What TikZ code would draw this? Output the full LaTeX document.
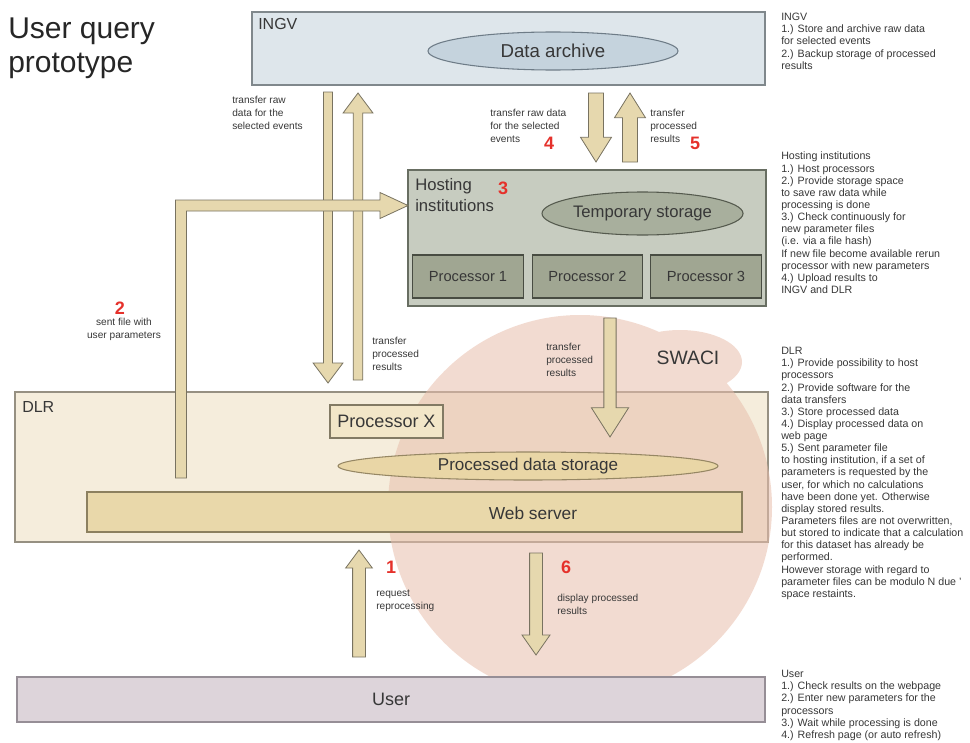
\documentclass[tikz,border=0pt]{standalone}
\usepackage{fontspec}
\setmainfont{Liberation Sans}
\usetikzlibrary{calc,shapes.geometric}

\definecolor{ingvfill}{RGB}{222,230,235}
\definecolor{ingvedge}{RGB}{128,136,140}
\definecolor{archivefill}{RGB}{197,211,221}
\definecolor{archiveedge}{RGB}{110,124,135}
\definecolor{hostfill}{RGB}{199,204,192}
\definecolor{hostedge}{RGB}{104,110,98}
\definecolor{tempfill}{RGB}{168,175,157}
\definecolor{tempedge}{RGB}{85,90,78}
\definecolor{procfill}{RGB}{160,166,146}
\definecolor{procedge}{RGB}{72,76,66}
\definecolor{dlrfill}{RGB}{245,237,220}
\definecolor{dlredge}{RGB}{150,144,130}
\definecolor{procxfill}{RGB}{242,230,200}
\definecolor{procxedge}{RGB}{130,122,100}
\definecolor{storefill}{RGB}{233,214,166}
\definecolor{storeedge}{RGB}{150,135,100}
\definecolor{webfill}{RGB}{233,216,170}
\definecolor{webedge}{RGB}{140,128,95}
\definecolor{userfill}{RGB}{221,212,218}
\definecolor{useredge}{RGB}{150,142,150}
\definecolor{swacipink}{RGB}{232,190,172}
\definecolor{arrowfill}{RGB}{230,216,174}
\definecolor{arrowedge}{RGB}{120,114,96}
\definecolor{numred}{RGB}{229,49,43}
\definecolor{inkgray}{RGB}{55,55,55}

% block arrow: from, to, shaft half width, head half width, head length
\newcommand{\blockarr}[5]{%
  \coordinate (ba) at ($(#2)!#5!(#1)$);
  \filldraw[arrowbody] ($(#1)!#3!90:(#2)$) -- ($(ba)!#3!-90:(#1)$) -- ($(ba)!#4!-90:(#1)$) -- (#2)
    -- ($(ba)!#4!90:(#1)$) -- ($(ba)!#3!90:(#1)$) -- ($(#1)!#3!-90:(#2)$) -- cycle;}

\begin{document}
\begin{tikzpicture}[x=0.75pt,y=0.75pt,yscale=-1,xscale=1,
  panel/.style={rectangle, line width=0.8pt, inner sep=0pt, text=inkgray},
  blob/.style={ellipse, line width=0.8pt, inner sep=0pt, text=inkgray},
  arrowbody/.style={fill=arrowfill, draw=arrowedge, line width=0.6pt, line join=miter},
  note/.style={anchor=north west, inner sep=0pt, align=left, text=inkgray, font=\fontsize{8}{9.1}\selectfont},
  tag/.style={anchor=north west, inner sep=0pt, align=left, text=inkgray, font=\fontsize{7.6}{9.6}\selectfont},
  num/.style={inner sep=0pt, text=numred, font=\fontsize{13.5}{14}\selectfont\bfseries}]
\useasboundingbox (0,0) rectangle (970,742);

% Text Node
\node (title) [anchor=north west, inner sep=0pt, align=left, text=black!85, font=\fontsize{22.5}{25.5}\selectfont] at (8,18) {User query\\prototype};

%Shape: Rectangle
\node (ingv) [panel, fill=ingvfill, draw=ingvedge, minimum width=384.75pt, minimum height=54.75pt] at (508.5,48.5) {};
\node (ingvlab) [anchor=north west, inner sep=0pt, text=inkgray, font=\fontsize{12}{14}\selectfont] at (258,18) {INGV};
%Shape: Ellipse
\node (archive) [blob, fill=archivefill, draw=archiveedge, minimum width=187.5pt, minimum height=28.5pt, font=\fontsize{14}{16}\selectfont] at (553,51) {Data archive};

%Shape: Rectangle
\node (host) [panel, fill=hostfill, draw=hostedge, minimum width=268.5pt, minimum height=102pt] at (587,238) {};
\node (hostlab) [anchor=north west, inner sep=0pt, align=left, text=inkgray, font=\fontsize{12.5}{16}\selectfont] at (415,178) {Hosting\\institutions};
%Shape: Ellipse
\node (temp) [blob, fill=tempfill, draw=tempedge, minimum width=150.75pt, minimum height=32.25pt, font=\fontsize{12.5}{14}\selectfont] at (642.5,213.5) {Temporary storage};
%Shape: Rectangle
\node (proc1) [panel, fill=procfill, draw=procedge, minimum width=83pt, minimum height=32.25pt, font=\fontsize{11}{13}\selectfont] at (468,276.5) {Processor 1};
\node (proc2) [panel, fill=procfill, draw=procedge, minimum width=83pt, minimum height=32.25pt, font=\fontsize{11}{13}\selectfont] at (587.5,276.5) {Processor 2};
\node (proc3) [panel, fill=procfill, draw=procedge, minimum width=83pt, minimum height=32.25pt, font=\fontsize{11}{13}\selectfont] at (706,276.5) {Processor 3};

%Shape: Rectangle
\node (dlr) [panel, fill=dlrfill, draw=dlredge, minimum width=564.75pt, minimum height=112.5pt] at (391.5,467) {};
\node (dlrlab) [anchor=north west, inner sep=0pt, text=inkgray, font=\fontsize{12}{14}\selectfont] at (22,401) {DLR};

%Shape: Circle
\fill[swacipink, opacity=0.55] (580,507) circle [radius=192] (680,362) ellipse [x radius=62, y radius=32];

%Shape: Rectangle
\node (procx) [panel, fill=procxfill, draw=procxedge, minimum width=84.75pt, minimum height=24.75pt, font=\fontsize{13.5}{15}\selectfont] at (386.5,421.5) {Processor X};
%Shape: Ellipse
\node (store) [blob, fill=storefill, draw=storeedge, minimum width=285pt, minimum height=21pt, font=\fontsize{12.8}{14}\selectfont] at (528,466) {Processed data storage};
%Shape: Rectangle
\node (web) [panel, fill=webfill, draw=webedge, minimum width=491.25pt, minimum height=30pt] at (414.5,512) {};
\node (weblab) [inner sep=0pt, text=inkgray, font=\fontsize{13}{15}\selectfont] at (533,513) {Web server};

%Shape: Rectangle
\node (user) [panel, fill=userfill, draw=useredge, minimum width=561pt, minimum height=33.75pt, font=\fontsize{13.5}{15}\selectfont] at (391,699.5) {User};

% arrow ends
\coordinate (rawtop) at (328,92);
\coordinate (rawbot) at (328,383);
\coordinate (restop) at (358,93);
\coordinate (resbot) at (358,380);
\coordinate (rawin) at (596,93);
\coordinate (rawout) at (596,162);
\coordinate (resin) at (630,93);
\coordinate (resout) at (630,162);
\coordinate (hostout) at (610,318);
\coordinate (dlrin) at (610,437);
\coordinate (reqtop) at (359,550);
\coordinate (reqbot) at (359,657);
\coordinate (showtop) at (536,553);
\coordinate (showbot) at (536,655);
\coordinate (sendfile) at (181,478);
\coordinate (hostin) at (408,205.5);

%Block Arrows
\blockarr{rawtop}{rawbot}{3.4pt}{11.2pt}{15pt}
\blockarr{resbot}{restop}{3.6pt}{11.2pt}{15pt}
\blockarr{rawin}{rawout}{5.6pt}{11.6pt}{18.5pt}
\blockarr{resout}{resin}{5.6pt}{11.6pt}{18.5pt}
\blockarr{hostout}{dlrin}{4.6pt}{14pt}{22pt}
\blockarr{reqbot}{reqtop}{4.8pt}{10pt}{13.5pt}
\blockarr{showtop}{showbot}{4.8pt}{10.5pt}{15pt}
\filldraw[arrowbody] ($(sendfile)+(-5.5,0)$) |- ($(hostin)+(-28,-5.5)$) -- ++(0,-7.5) -- (hostin)
  -- ($(hostin)+(-28,13)$) -- ++(0,-7.5) -| ($(sendfile)+(5.5,0)$) -- cycle;

% Text Node
\node (swaci) [inner sep=0pt, text=inkgray, font=\fontsize{14.5}{16}\selectfont] at (688,358) {SWACI};

% Text Node
\node (n1) [num] at (391,567) {1};
\node (n2) [num] at (120,308) {2};
\node (n3) [num] at (503,188) {3};
\node (n4) [num] at (549,143) {4};
\node (n5) [num] at (695,143) {5};
\node (n6) [num] at (566,567) {6};

% Text Node
\node (tA) [tag] at (232,96) {transfer raw\\data for the\\selected events};
\node (tB) [tag] at (490,109) {transfer raw data\\for the selected\\events};
\node (tC) [tag] at (650,109) {transfer\\processed\\results};
\node (tD) [tag] at (372,337) {transfer\\processed\\results};
\node (tE) [tag] at (546,343) {transfer\\processed\\results};
\node (tF) [tag, anchor=north, align=center] at (124,318) {sent file with\\user parameters};
\node (tG) [tag] at (376,590) {request\\reprocessing};
\node (tH) [tag] at (557,594) {display processed\\results};

% Text Node
\node (ingvnote) [note] at (781,13) {INGV\\1.) Store and archive raw data\\for selected events\\2.) Backup storage of processed\\results};
\node (hostnote) [note] at (781,152) {Hosting institutions\\1.) Host processors\\2.) Provide storage space\\to save raw data while\\processing is done\\3.) Check continuously for\\new parameter files\\(i.e. via a file hash)\\If new file become available rerun\\processor with new parameters\\4.) Upload results to\\INGV and DLR};
\node (dlrnote) [note] at (781,347) {DLR\\1.) Provide possibility to host\\processors\\2.) Provide software for the\\data transfers\\3.) Store processed data\\4.) Display processed data on\\web page\\5.) Sent parameter file\\to hosting institution, if a set of\\parameters is requested by the\\user, for which no calculations\\have been done yet. Otherwise\\display stored results.\\Parameters files are not overwritten,\\but stored to indicate that a calculation\\for this dataset has already be\\performed.\\However storage with regard to\\parameter files can be modulo N due '\\space restaints.};
\node (usernote) [note] at (781,670) {User\\1.) Check results on the webpage\\2.) Enter new parameters for the\\processors\\3.) Wait while processing is done\\4.) Refresh page (or auto refresh)};

\end{tikzpicture}
\end{document}
